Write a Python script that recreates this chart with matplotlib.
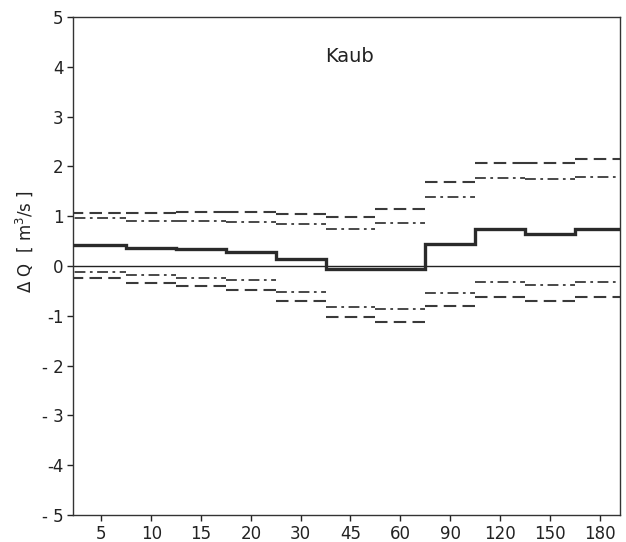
import numpy as np
import matplotlib
matplotlib.use('Agg')
import matplotlib.pyplot as plt

# durations (categories on the x axis)
durations = [5, 10, 15, 20, 30, 45, 60, 90, 120, 150, 180]

# mean change (solid step line)
dq_mean = [0.43, 0.37, 0.35, 0.28, 0.15, -0.05, -0.05, 0.44, 0.74, 0.65, 0.74]
# outer band (dashed)
dq_upper_dash = [1.07, 1.07, 1.09, 1.08, 1.05, 0.98, 1.14, 1.68, 2.06, 2.06, 2.14]
dq_lower_dash = [-0.24, -0.34, -0.41, -0.49, -0.71, -1.03, -1.13, -0.80, -0.62, -0.71, -0.63]
# inner band (dash-dot)
dq_upper_dd = [0.97, 0.90, 0.90, 0.89, 0.85, 0.75, 0.87, 1.39, 1.77, 1.75, 1.79]
dq_lower_dd = [-0.12, -0.18, -0.24, -0.29, -0.53, -0.83, -0.86, -0.54, -0.32, -0.38, -0.32]

yticks = [-5, -4, -3, -2, -1, 0, 1, 2, 3, 4, 5]
ytick_labels = ['- 5', '-4', '- 3', '- 2', '-1', '0', '1', '2', '3', '4', '5']

pos = np.arange(len(durations))
left = pos - 0.5
right = pos + 0.5
left[0] = -1.0      # run to the frame
right[-1] = len(durations)

fig = plt.figure(figsize=(6.26, 5.42), dpi=100)
ax = fig.add_axes([0.1166, 0.0498, 0.8738, 0.9188])

line_col = '#3a3a3a'

# zero line
ax.axhline(0, color='#222222', linewidth=1.0, zorder=1)

# band segments, each drawn separately
ax.hlines(dq_upper_dash, left, right, colors=line_col, linewidth=1.5,
          linestyles=(0, (6, 3)))
ax.hlines(dq_lower_dash, left, right, colors=line_col, linewidth=1.5,
          linestyles=(0, (6, 3)))
ax.hlines(dq_upper_dd, left, right, colors=line_col, linewidth=1.3,
          linestyles=(0, (6, 2.5, 1.5, 2.5)))
ax.hlines(dq_lower_dd, left, right, colors=line_col, linewidth=1.3,
          linestyles=(0, (6, 2.5, 1.5, 2.5)))

# mean step line
edges = np.concatenate([[left[0]], right])
ax.stairs(dq_mean, edges, baseline=None, color='#2a2a2a', linewidth=2.4, zorder=3)

ax.set_xlim(-0.57, 10.41)
ax.set_ylim(-5, 5)
ax.set_xticks(pos)
ax.set_xticklabels([str(d) for d in durations])
ax.set_yticks(yticks)
ax.set_yticklabels(ytick_labels)
ax.tick_params(direction='out', length=4, width=1, labelsize=12,
               colors='#222222', pad=3)

for s in ax.spines.values():
    s.set_linewidth(1.0)
    s.set_color('#333333')

ax.set_ylabel(r'$\Delta$ Q  [ m$^3$/s ]', fontsize=12, color='#222222')
ax.yaxis.set_label_coords(-0.069, 0.55)

ax.text(0.505, 0.92, 'Kaub', transform=ax.transAxes, ha='center', va='center',
        fontsize=14, color='#222222')

plt.savefig('out.png', dpi=100)
